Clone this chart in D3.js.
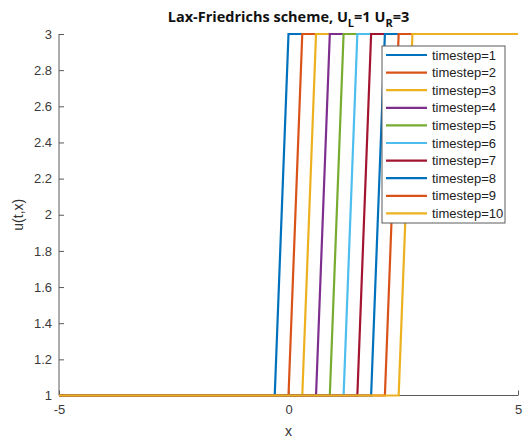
<!DOCTYPE html>
<html>
<head>
<meta charset="utf-8">
<script src="https://cdn.jsdelivr.net/npm/d3@7"></script>
<style>
  body { margin: 0; background: #fff; }
  svg { font-family: "Liberation Sans", Arial, sans-serif; }
</style>
</head>
<body>
<div id="plot"></div>
<script>
// data
const timesteps = [1, 2, 3, 4, 5, 6, 7, 8, 9, 10]
const shockFoot = [-0.3, 0, 0.3, 0.6, 0.9, 1.2, 1.5, 1.8, 2.1, 2.4]   // last x where u = U_L
const shockHead = [0, 0.3, 0.6, 0.9, 1.2, 1.5, 1.8, 2.1, 2.4, 2.7]    // first x where u = U_R
const uLeft = 1
const uRight = 3
const xDomain = [-5, 5]
const xTicks = [-5, 0, 5]
const yTicks = [1, 1.2, 1.4, 1.6, 1.8, 2, 2.2, 2.4, 2.6, 2.8, 3]
const colors = ['#0072BD', '#D95319', '#EDB120', '#7E2F8E', '#77AC30',
                '#4DBEEE', '#A2142F', '#0072BD', '#D95319', '#EDB120']

const width = 530
const height = 445
const margin = { left: 59, right: 12, top: 34, bottom: 49.5 }

const svg = d3.select('#plot')
  .append('svg')
  .attr('width', width)
  .attr('height', height)

const x = d3.scaleLinear().domain(xDomain).range([margin.left, width - margin.right])
const y = d3.scaleLinear().domain([uLeft, uRight]).range([height - margin.bottom, margin.top])

const series = timesteps.map((t, i) => ({
  name: 'timestep=' + t,
  color: colors[i],
  points: [[xDomain[0], uLeft], [shockFoot[i], uLeft], [shockHead[i], uRight], [xDomain[1], uRight]]
}))

const line = d3.line().x(d => x(d[0])).y(d => y(d[1]))

// axes (box off, ticks pointing inwards)
const xAxis = svg.append('g')
  .attr('transform', 'translate(0,' + y(uLeft) + ')')
  .call(d3.axisBottom(x).tickValues(xTicks).tickSize(-5).tickPadding(9).tickFormat(d => String(d)))
const yAxis = svg.append('g')
  .attr('transform', 'translate(' + x(xDomain[0]) + ',0)')
  .call(d3.axisLeft(y).tickValues(yTicks).tickSize(-5).tickPadding(7).tickFormat(d => String(+d.toFixed(1))))

for (const ax of [xAxis, yAxis]) {
  ax.select('.domain').attr('stroke', '#5a5a5a').attr('stroke-width', 1)
  ax.selectAll('.tick line').attr('stroke', '#5a5a5a')
  ax.selectAll('.tick text').attr('fill', '#3a3a3a').style('font-size', '13px')
}
xAxis.select('.domain').attr('d', 'M' + x(xDomain[0]) + ',0H' + x(xDomain[1]))
yAxis.select('.domain').attr('d', 'M0,' + y(uRight) + 'V' + y(uLeft))

// lines
svg.append('g')
  .selectAll('path')
  .data(series)
  .enter()
  .append('path')
  .attr('d', d => line(d.points))
  .attr('fill', 'none')
  .attr('stroke', d => d.color)
  .attr('stroke-width', 2.2)
  .attr('stroke-linejoin', 'miter')

// title
const title = svg.append('text')
  .attr('x', (x(xDomain[0]) + x(xDomain[1])) / 2)
  .attr('y', 22)
  .attr('text-anchor', 'middle')
  .style('font-family', '"Open Sans", sans-serif')
  .style('font-size', '14.5px')
  .style('font-weight', 'bold')
  .attr('fill', '#111')
title.append('tspan').text('Lax-Friedrichs scheme, U')
title.append('tspan').attr('dy', 5).style('font-size', '11px').text('L')
title.append('tspan').attr('dy', -5).text('=' + uLeft + ' U')
title.append('tspan').attr('dy', 5).style('font-size', '11px').text('R')
title.append('tspan').attr('dy', -5).text('=' + uRight)

// axis labels
svg.append('text')
  .attr('x', x(0))
  .attr('y', 436)
  .attr('text-anchor', 'middle')
  .style('font-size', '14px')
  .attr('fill', '#333')
  .text('x')
svg.append('text')
  .attr('transform', 'translate(23,' + y(2) + ') rotate(-90)')
  .attr('text-anchor', 'middle')
  .style('font-size', '14px')
  .attr('fill', '#333')
  .text('u(t,x)')

// legend
const legend = svg.append('g').attr('transform', 'translate(382,46)')
legend.append('rect')
  .attr('width', 123)
  .attr('height', 177)
  .attr('fill', '#fff')
  .attr('stroke', '#5a5a5a')
  .attr('stroke-width', 1)
const item = legend.selectAll('g')
  .data(series)
  .enter()
  .append('g')
  .attr('transform', (d, i) => 'translate(0,' + (9 + i * 17.6) + ')')
item.append('line')
  .attr('x1', 4).attr('x2', 45)
  .attr('stroke', d => d.color)
  .attr('stroke-width', 2.2)
item.append('text')
  .attr('x', 50)
  .attr('dy', '0.35em')
  .style('font-size', '13px')
  .attr('fill', '#222')
  .text(d => d.name)
</script>
</body>
</html>
